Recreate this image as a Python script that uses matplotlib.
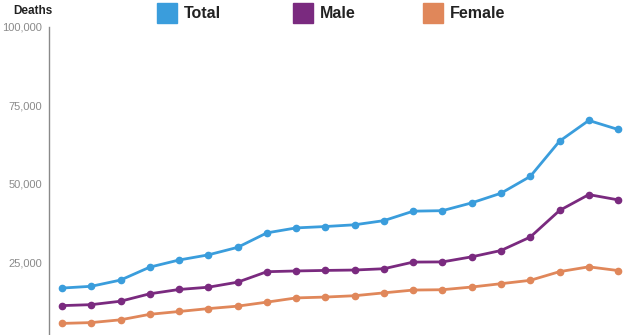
import matplotlib
matplotlib.use("Agg")
import matplotlib.pyplot as plt
from matplotlib.patches import Rectangle

years = list(range(1999, 2019))
total = [16849, 17415, 19394, 23518, 25785, 27424, 29813, 34425, 36010, 36450,
         37004, 38329, 41340, 41502, 43982, 47055, 52404, 63632, 70237, 67367]
male = [11258, 11563, 12658, 15028, 16399, 17120, 18724, 22058, 22298, 22468,
        22593, 23006, 25124, 25180, 26799, 28812, 33091, 41558, 46622, 44941]
female = [5591, 5852, 6736, 8490, 9386, 10304, 11089, 12367, 13712, 13982,
          14411, 15323, 16216, 16322, 17183, 18243, 19313, 22074, 23615, 22426]

series_names = ["Total", "Male", "Female"]
colors = ["#3a9ddc", "#7a2a7f", "#e0875a"]
yticks = [25000, 50000, 75000, 100000]

plt.rcParams["font.family"] = ["Liberation Sans", "DejaVu Sans"]

fig = plt.figure(figsize=(6.4, 3.35), dpi=100)
W, H = 640, 335
ax = fig.add_axes([49 / W, 0, 1 - 49 / W, (H - 27) / H])

for vals, c in zip([total, male, female], colors):
    ax.plot(years, vals, color=c, lw=2, marker="o", ms=4.5, mec=c, mfc=c,
            solid_joinstyle="round", clip_on=False)

ax.set_ylim(1900, 100000)
ax.set_xlim(1998.556, 2018.75)
ax.set_yticks(yticks)
ax.set_yticklabels([f"{v:,}" for v in yticks], color="#8a8a8a", fontsize=8)
ax.tick_params(axis="y", length=0, pad=5)
ax.set_xticks([])
for s in ["top", "right", "bottom"]:
    ax.spines[s].set_visible(False)
ax.spines["left"].set_color("#8a8a8a")
ax.spines["left"].set_linewidth(1)

fig.text(13 / W, 1 - 11 / H, "Deaths", fontsize=8.5, fontweight="bold",
         va="center", ha="left", color="#222222")

# legend squares with bold labels across the top
legend_x = [157, 293, 423]
for name, c, x in zip(series_names, colors, legend_x):
    fig.patches.append(Rectangle((x / W, 1 - 23 / H), 20 / W, 20 / H,
                                 transform=fig.transFigure, color=c))
    fig.text((x + 27) / W, 1 - 13 / H, name, fontsize=11.5, fontweight="bold",
             va="center", ha="left", color="#222222")

fig.savefig("out.png", dpi=100)
